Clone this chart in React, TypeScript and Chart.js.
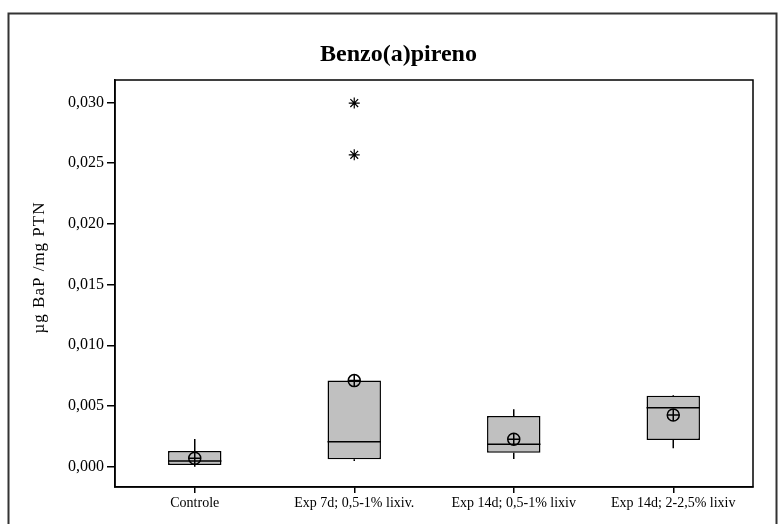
import React, { useEffect, useRef } from 'react';
import { Chart, registerables } from 'chart.js';

Chart.register(...registerables);

const categories = ['Controle', 'Exp 7d; 0,5-1% lixiv.', 'Exp 14d; 0,5-1% lixiv', 'Exp 14d; 2-2,5% lixiv'];
const whiskerLow = [0.0, 0.00047, 0.00063, 0.00152];
const q1 = [0.00014, 0.00061, 0.00115, 0.0022];
const median = [0.00047, 0.00206, 0.00185, 0.00486];
const q3 = [0.00129, 0.00709, 0.00418, 0.00585];
const whiskerHigh = [0.00228, 0.00709, 0.00473, 0.0059];
const means = [0.00069, 0.00709, 0.00226, 0.00426];
const outlierCategory = ['Exp 7d; 0,5-1% lixiv.', 'Exp 7d; 0,5-1% lixiv.'];
const outlierValues = [0.02994, 0.02568];
const yTicks = [0, 0.005, 0.01, 0.015, 0.02, 0.025, 0.03];
const yMin = -0.00167;
const yMax = 0.03184;
const chartTitle = 'Benzo(a)pireno';
const yAxisTitle = 'µg BaP /mg PTN';

const FONT = "'Liberation Serif', 'Times New Roman', serif";

const boxPlugin = {
  id: 'boxParts',
  beforeDatasetsDraw(chart: any) {
    const { ctx, scales } = chart;
    const x = scales.x, y = scales.y;
    ctx.save();
    ctx.strokeStyle = '#000';
    ctx.lineWidth = 1.5;
    categories.forEach((c, i) => {
      const px = x.getPixelForValue(i);
      ctx.beginPath();
      ctx.moveTo(px, y.getPixelForValue(whiskerHigh[i]));
      ctx.lineTo(px, y.getPixelForValue(q3[i]));
      ctx.moveTo(px, y.getPixelForValue(q1[i]));
      ctx.lineTo(px, y.getPixelForValue(whiskerLow[i]));
      ctx.stroke();
    });
    ctx.restore();
  },
  afterDatasetDraw(chart: any, args: any) {
    if (args.meta.type !== 'bar') return;
    const { ctx, scales } = chart;
    const y = scales.y;
    ctx.save();
    ctx.strokeStyle = '#000';
    ctx.lineWidth = 1.5;
    args.meta.data.forEach((bar: any, i: number) => {
      const py = y.getPixelForValue(median[i]);
      ctx.beginPath();
      ctx.moveTo(bar.x - bar.width / 2, py);
      ctx.lineTo(bar.x + bar.width / 2, py);
      ctx.stroke();
    });
    ctx.restore();
  },
  afterDraw(chart: any) {
    const { ctx, chartArea } = chart;
    ctx.save();
    ctx.strokeStyle = '#000';
    ctx.lineWidth = 1.5;
    ctx.strokeRect(chartArea.left, chartArea.top, chartArea.right - chartArea.left, chartArea.bottom - chartArea.top);
    ctx.strokeStyle = '#333';
    ctx.lineWidth = 2;
    ctx.strokeRect(8.5, 13.5, 768, 540);
    ctx.restore();
    // y axis title
    ctx.save();
    ctx.translate(40, 267.5);
    ctx.rotate(-Math.PI / 2);
    ctx.font = `17px ${FONT}`;
    ctx.fillStyle = '#000';
    ctx.textAlign = 'center';
    ctx.textBaseline = 'middle';
    try { (ctx as any).letterSpacing = '1px'; } catch (e) { /* ignore */ }
    ctx.fillText(yAxisTitle, 0, 0);
    ctx.restore();
  },
};

export default function App() {
  const ref = useRef<HTMLCanvasElement>(null);
  useEffect(() => {
    const chart = new Chart(ref.current as HTMLCanvasElement, {
      type: 'bar',
      data: {
        labels: categories,
        datasets: [
          {
            type: 'line',
            label: 'mean-circle',
            data: means,
            showLine: false,
            pointStyle: 'circle',
            pointRadius: 6,
            pointBackgroundColor: 'rgba(0,0,0,0)',
            pointBorderColor: '#000',
            pointBorderWidth: 1.5,
            order: 0,
          } as any,
          {
            type: 'line',
            label: 'mean-cross',
            data: means,
            showLine: false,
            pointStyle: 'cross',
            pointRadius: 6,
            pointBorderColor: '#000',
            pointBorderWidth: 1.5,
            order: 0,
          } as any,
          {
            type: 'line',
            label: 'outliers',
            data: outlierCategory.map((c, i) => ({ x: c, y: outlierValues[i] })),
            showLine: false,
            pointStyle: 'star',
            pointRadius: 5.5,
            pointBorderColor: '#000',
            pointBorderWidth: 1.2,
            order: 0,
          } as any,
          {
            type: 'bar',
            label: 'box',
            data: categories.map((c, i) => [q1[i], q3[i]]),
            backgroundColor: '#c0c0c0',
            borderColor: '#000',
            borderWidth: 1.5,
            borderSkipped: false,
            categoryPercentage: 1,
            barPercentage: 0.335,
            order: 5,
          } as any,
        ],
      },
      options: {
        animation: false,
        responsive: false,
        devicePixelRatio: 1,
        events: [],
        layout: { padding: { left: 44, right: 25, top: 0, bottom: 0 } },
        plugins: {
          legend: { display: false },
          tooltip: { enabled: false },
          title: {
            display: true,
            text: chartTitle,
            color: '#000',
            font: { family: FONT, size: 24, weight: 'bold' },
            padding: { top: 40.6, bottom: 10.6 },
          },
        },
        scales: {
          x: {
            type: 'category',
            offset: true,
            grid: { display: true, drawOnChartArea: false, drawTicks: true, tickLength: 6, color: '#000', offset: false, lineWidth: 1.5 },
            border: { display: true, color: '#000', width: 1.5 },
            ticks: { color: '#000', font: { family: FONT, size: 14 }, padding: 2, maxRotation: 0, autoSkip: false },
            afterFit(scale: any) { scale.height = 37; },
          },
          y: {
            type: 'linear',
            min: yMin,
            max: yMax,
            afterBuildTicks(scale: any) { scale.ticks = yTicks.map((v) => ({ value: v })); },
            grid: { display: true, drawOnChartArea: false, drawTicks: true, tickLength: 8, color: '#000', lineWidth: 1.5 },
            border: { display: true, color: '#000', width: 1.5 },
            ticks: {
              color: '#000',
              font: { family: FONT, size: 16 },
              padding: 3,
              callback: (v: any) => Number(v).toFixed(3).replace('.', ','),
            },
            title: { display: false, text: yAxisTitle },
            afterFit(scale: any) { scale.width = 71; },
          },
        },
      } as any,
      plugins: [boxPlugin],
    });
    return () => chart.destroy();
  }, []);
  return (
    <canvas
      ref={ref}
      width={778}
      height={524}
      style={{ position: 'fixed', left: 0, top: 0, width: 778, height: 524, background: '#fff' }}
    />
  );
}
